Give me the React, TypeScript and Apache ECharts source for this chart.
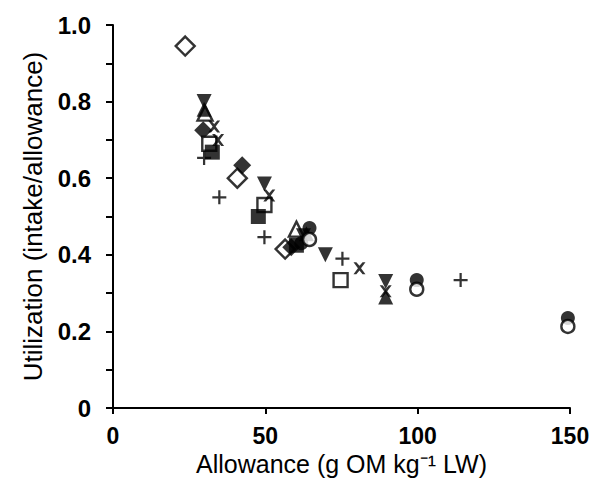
import React, { useEffect, useRef } from "react";
import * as echarts from "echarts";

const openDiamond: number[][] = [[23.7, 0.945], [40.8, 0.6], [56.5, 0.415]];
const filledDiamond: number[][] = [[29.6, 0.725], [42.4, 0.634], [58.5, 0.42]];
const openSquare: number[][] = [[31.6, 0.69], [49.7, 0.53], [74.7, 0.334]];
const filledSquare: number[][] = [[32.6, 0.668], [47.7, 0.5], [60.2, 0.425]];
const openTriangle: number[][] = [[30.2, 0.77], [60.2, 0.467]];
const filledTriDown: number[][] = [[29.9, 0.8], [49.7, 0.585], [69.7, 0.4], [89.5, 0.33], [62.5, 0.45]];
const filledTriUp: number[][] = [[29.9, 0.78], [89.5, 0.29], [63.5, 0.455]];
const filledCircle: number[][] = [[64.5, 0.47], [99.7, 0.334], [149.3, 0.235], [61.8, 0.43]];
const openCircle: number[][] = [[64.5, 0.44], [99.7, 0.31], [149.3, 0.213]];
const crossPts: number[][] = [[33.2, 0.735], [34.5, 0.7], [51.3, 0.555], [80.9, 0.365], [89.5, 0.305]];
const plusPts: number[][] = [[29.9, 0.653], [34.9, 0.55], [49.7, 0.446], [75.3, 0.39], [114.1, 0.334]];

const xTicks = [0, 50, 100, 150];
const yTicks = [0, 0.2, 0.4, 0.6, 0.8, 1.0];

const CROSS = "path://M0,0 L2.4,0 L5,3 L7.6,0 L10,0 L6.3,5 L10,10 L7.6,10 L5,7 L2.4,10 L0,10 L3.7,5 Z";
const PLUS = "path://M4.2,0 L5.8,0 L5.8,4.2 L10,4.2 L10,5.8 L5.8,5.8 L5.8,10 L4.2,10 L4.2,5.8 L0,5.8 L0,4.2 L4.2,4.2 Z";
const TRI_DOWN = "path://M0,0 L10,0 L5,10 Z";

export default function App() {
  const ref = useRef<HTMLDivElement>(null);
  useEffect(() => {
    if (!ref.current) return;
    const chart = echarts.init(ref.current, undefined, { renderer: "svg" });
    const open = { color: "#fff", borderColor: "#000", borderWidth: 2.4 };
    const filled = { color: "#000", borderColor: "#000", borderWidth: 0 };
    const mk = (data: number[][], symbol: string, size: number | number[], style: any) => ({
      type: "scatter",
      data,
      symbol,
      symbolSize: size,
      itemStyle: style,
      z: 3,
    });
    const font = "Liberation Sans, Arial, sans-serif";
    chart.setOption({
      animation: false,
      backgroundColor: "#fff",
      grid: { left: 113, right: 23, top: 25, bottom: 82 },
      xAxis: {
        type: "value",
        min: 0,
        max: 150,
        interval: 50,
        name: "Allowance (g OM kg⁻¹ LW)",
        nameLocation: "middle",
        nameGap: 41,
        nameTextStyle: { fontFamily: font, fontSize: 25, color: "#000" },
        axisLine: { lineStyle: { color: "#000", width: 2 } },
        axisTick: { show: true, length: 6, lineStyle: { color: "#000", width: 2 } },
        axisLabel: {
          margin: 16,
          fontFamily: font,
          fontSize: 23,
          fontWeight: "bold",
          color: "#000",
          formatter: (v: number) => (xTicks.includes(v) ? String(v) : ""),
        },
        splitLine: { show: false },
      },
      yAxis: {
        type: "value",
        min: 0,
        max: 1,
        interval: 0.2,
        name: "Utilization (intake/allowance)",
        nameLocation: "middle",
        nameGap: 67,
        nameTextStyle: { fontFamily: font, fontSize: 26, color: "#000" },
        axisLine: { show: true, lineStyle: { color: "#000", width: 2 } },
        axisTick: { show: true, length: 7, lineStyle: { color: "#000", width: 2 } },
        minorTick: { show: true, splitNumber: 2, length: 7, lineStyle: { color: "#000", width: 2 } },
        axisLabel: {
          margin: 22,
          fontFamily: font,
          fontSize: 24,
          fontWeight: "bold",
          color: "#000",
          formatter: (v: number) => {
            const t = yTicks.find((k) => Math.abs(k - v) < 1e-6);
            if (t === undefined) return "";
            return t === 0 ? "0" : t.toFixed(1);
          },
        },
        splitLine: { show: false },
      },
      series: [
        mk(openDiamond, "diamond", 19, open),
        mk(filledDiamond, "diamond", 18, filled),
        mk(openSquare, "rect", 14, open),
        mk(filledSquare, "rect", 15, filled),
        mk(openTriangle, "triangle", 15, open),
        mk(filledTriDown, TRI_DOWN, 15, filled),
        mk(filledTriUp, "triangle", 15, filled),
        mk(filledCircle, "circle", 14, filled),
        mk(openCircle, "circle", 13, open),
        mk(crossPts, CROSS, 12, filled),
        mk(plusPts, PLUS, 14, filled),
      ],
    });
    return () => chart.dispose();
  }, []);
  return (
    <div
      ref={ref}
      style={{ position: "fixed", left: 0, top: 0, width: 593, height: 490, overflow: "visible" }}
    />
  );
}
